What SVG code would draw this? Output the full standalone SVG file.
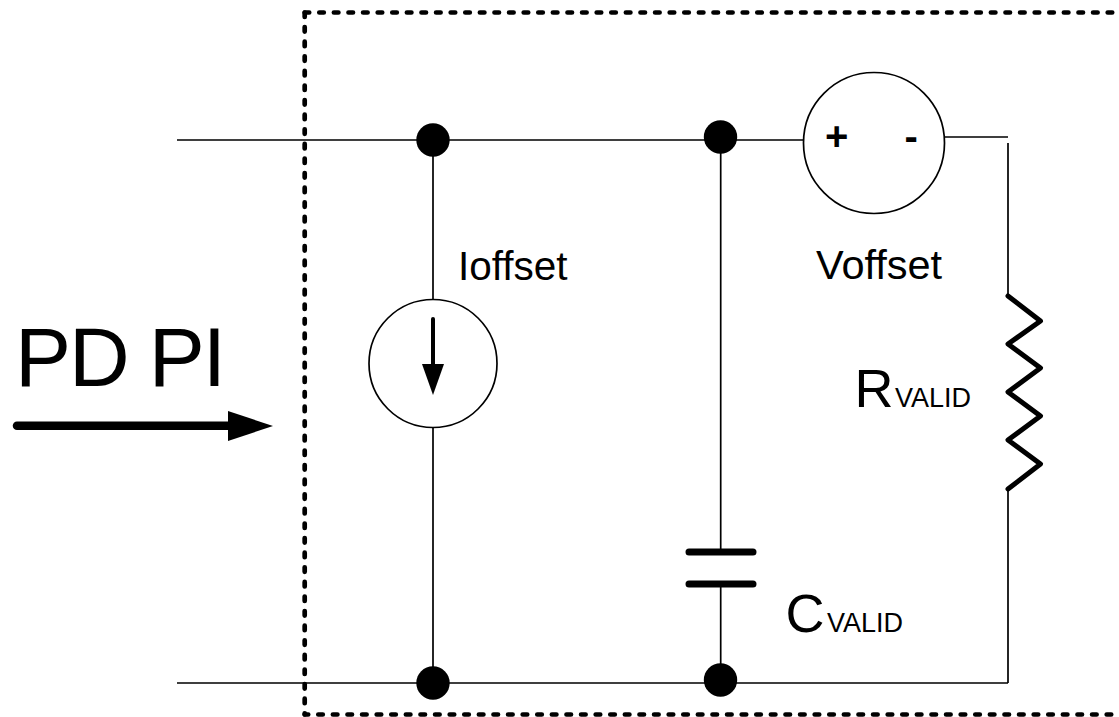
<svg xmlns="http://www.w3.org/2000/svg" width="1119" height="717" viewBox="0 0 1119 717">
<style>
.w{fill:none;stroke:#000;stroke-width:1.7}
.d{fill:#000}
.t{font-family:"Liberation Sans",Arial,sans-serif;fill:#000}
.p{fill:#fff;stroke:#000;stroke-width:1.7}
.b{fill:none;stroke:#000;stroke-width:4.7;stroke-linecap:round;stroke-dasharray:4.5 10.1}
</style>
<rect width="1119" height="717" fill="#fff"/>
<g id="boundary">
<path class="b" d="M304.7 12.5H1119"/>
<path class="b" d="M304.7 12.5V714.5"/>
<path class="b" d="M304.7 714.5H1119" stroke-dashoffset="1"/>
</g>
<g id="connectors">
<path class="w" d="M177 140H803M945 137H1008M1008 143V296M1008 490V683M177 683H1008"/>
<path class="w" d="M433 140V299M433 428V683M720.7 137V552M720.7 584V680"/>
</g>
<g id="junctions">
<circle class="d" cx="433" cy="140" r="16.7"/><circle class="d" cx="720.5" cy="137" r="16.7"/>
<circle class="d" cx="433" cy="683" r="16.7"/><circle class="d" cx="720.5" cy="680" r="16.7"/>
</g>
<g id="ioffset">
<circle class="p" cx="433" cy="363.5" r="64"/>
<path d="M433 319V366" stroke="#000" stroke-width="4" stroke-linecap="round"/>
<path d="M422 364H444L433 395Z" class="d"/>
<text class="t" x="458" y="279.5" font-size="40.5">Ioffset</text>
</g>
<g id="voffset">
<circle class="p" cx="874" cy="143" r="70.5"/>
<text class="t" x="825" y="149.5" font-size="40" font-weight="bold">+</text>
<text class="t" x="904.5" y="149.5" font-size="40" font-weight="bold">-</text>
<text class="t" x="816" y="279" font-size="41.5">Voffset</text>
</g>
<g id="resistor">
<path fill="none" stroke="#000" stroke-width="5" stroke-linecap="round" stroke-linejoin="round" d="M1008 296L1040.5 321L1008 344L1040.5 368L1008 392L1040.5 416L1008 440L1040.5 464L1008 489"/>
<text class="t" y="407"><tspan x="854.5" font-size="54">R</tspan><tspan x="895" font-size="27">VALID</tspan></text>
</g>
<g id="capacitor">
<path fill="none" stroke="#000" stroke-width="7" stroke-linecap="round" d="M689 552H753M689 584H753"/>
<text class="t" y="631.5"><tspan x="785.5" font-size="54">C</tspan><tspan x="827" font-size="27">VALID</tspan></text>
</g>
<g id="pdpi">
<text class="t" x="15" y="386" font-size="84" textLength="211" lengthAdjust="spacing">PD PI</text>
<path d="M17 425.7H235" stroke="#000" stroke-width="8.5" stroke-linecap="round"/>
<path d="M228 411L273 426L228 441Z" class="d"/>
</g>
</svg>
